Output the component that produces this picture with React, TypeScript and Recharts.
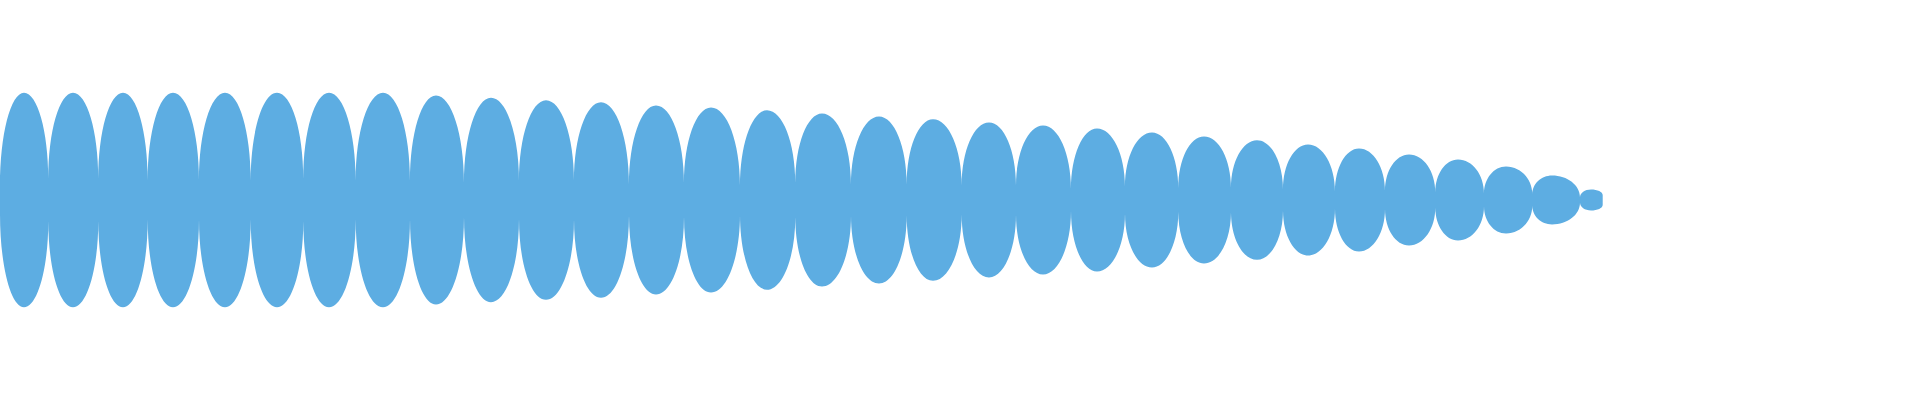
import React from "react";
import { AreaChart, Area, XAxis, YAxis } from "recharts";

// Positions along the time axis where the waveform pinches (narrowest points)
const pinchT = [
  0, 48.3, 98.3, 147.7, 199, 250.7, 303.3, 355.7, 410, 464, 519, 574, 629, 684,
  740, 795.3, 851, 906.7, 961.7, 1016, 1071, 1125, 1178.3, 1231, 1283, 1335,
  1385, 1435.3, 1484, 1532.3, 1580, 1602.7,
];
// Half-amplitude at the pinch points
const pinchAmp = [
  14, 21, 21, 19.5, 19.5, 19.5, 21, 19.5, 19, 17, 19, 19.5, 15.5, 17, 14.5, 17,
  15.5, 15.5, 14.5, 14.5, 11, 13.5, 12, 12, 10.5, 8.5, 9, 7.8, 6.5, 5.8, 2.8, 5,
];
// Positions of the lobe crests
const peakT = [
  24, 73, 123, 173, 225, 277, 329, 383, 436, 491, 546, 601, 656, 711, 767, 822,
  879, 933, 989, 1043, 1097, 1152, 1204, 1257, 1308, 1359, 1409, 1458, 1506,
  1552, 1591,
];
// Half-amplitude at the lobe crests
const peakAmp = [
  107.2, 107.2, 107.2, 107.2, 107.2, 107.2, 107.2, 107.2, 104.5, 102.2, 99.8,
  97.8, 94.5, 92.5, 89.8, 86.5, 83.5, 80.8, 77.5, 74.5, 71.5, 67.5, 63.5, 59.8,
  55.5, 51.5, 45.5, 40.5, 33.5, 24.5, 10.5,
];

const xDomain = [0, 1920];
const yDomain = [-200, 200];

type Row = { t: number; band: [number, number] };
const rows: Row[] = [];
pinchT.forEach((t, i) => {
  rows.push({ t, band: [-pinchAmp[i], pinchAmp[i]] });
  if (i < peakT.length) {
    rows.push({ t: peakT[i], band: [-peakAmp[i], peakAmp[i]] });
  }
});

// Curve: vertical tangent at pinch points (even index), horizontal at crests (odd index)
const K = 0.5523;
function lobeCurve(context: any) {
  let line = NaN;
  let idx = 0;
  let px = 0;
  let py = 0;
  return {
    areaStart() {
      line = 0;
    },
    areaEnd() {
      line = NaN;
    },
    lineStart() {
      idx = 0;
    },
    lineEnd() {
      if (line || (line !== 0 && idx === 1)) context.closePath();
      line = 1 - line;
    },
    point(xIn: number, yIn: number) {
      const x = +xIn;
      const y = +yIn;
      if (idx === 0) {
        if (line) context.lineTo(x, y);
        else context.moveTo(x, y);
      } else {
        const prevIsPinch = (idx - 1) % 2 === 0;
        if (prevIsPinch) {
          context.bezierCurveTo(px, py + K * (y - py), x - K * (x - px), y, x, y);
        } else {
          context.bezierCurveTo(px + K * (x - px), py, x, y - K * (y - py), x, y);
        }
      }
      px = x;
      py = y;
      idx++;
    },
  };
}

export default function App() {
  return (
    <div style={{ position: "absolute", left: 0, top: 0, width: 1920, height: 400 }}>
      <AreaChart
        width={1920}
        height={400}
        data={rows}
        margin={{ top: 0, right: 0, bottom: 0, left: 0 }}
      >
        <XAxis dataKey="t" type="number" domain={xDomain} hide allowDataOverflow />
        <YAxis type="number" domain={yDomain} hide allowDataOverflow />
        <Area
          dataKey="band"
          type={lobeCurve as any}
          stroke="none"
          fill="#5DADE2"
          fillOpacity={1}
          isAnimationActive={false}
          activeDot={false}
          dot={false}
        />
      </AreaChart>
    </div>
  );
}
